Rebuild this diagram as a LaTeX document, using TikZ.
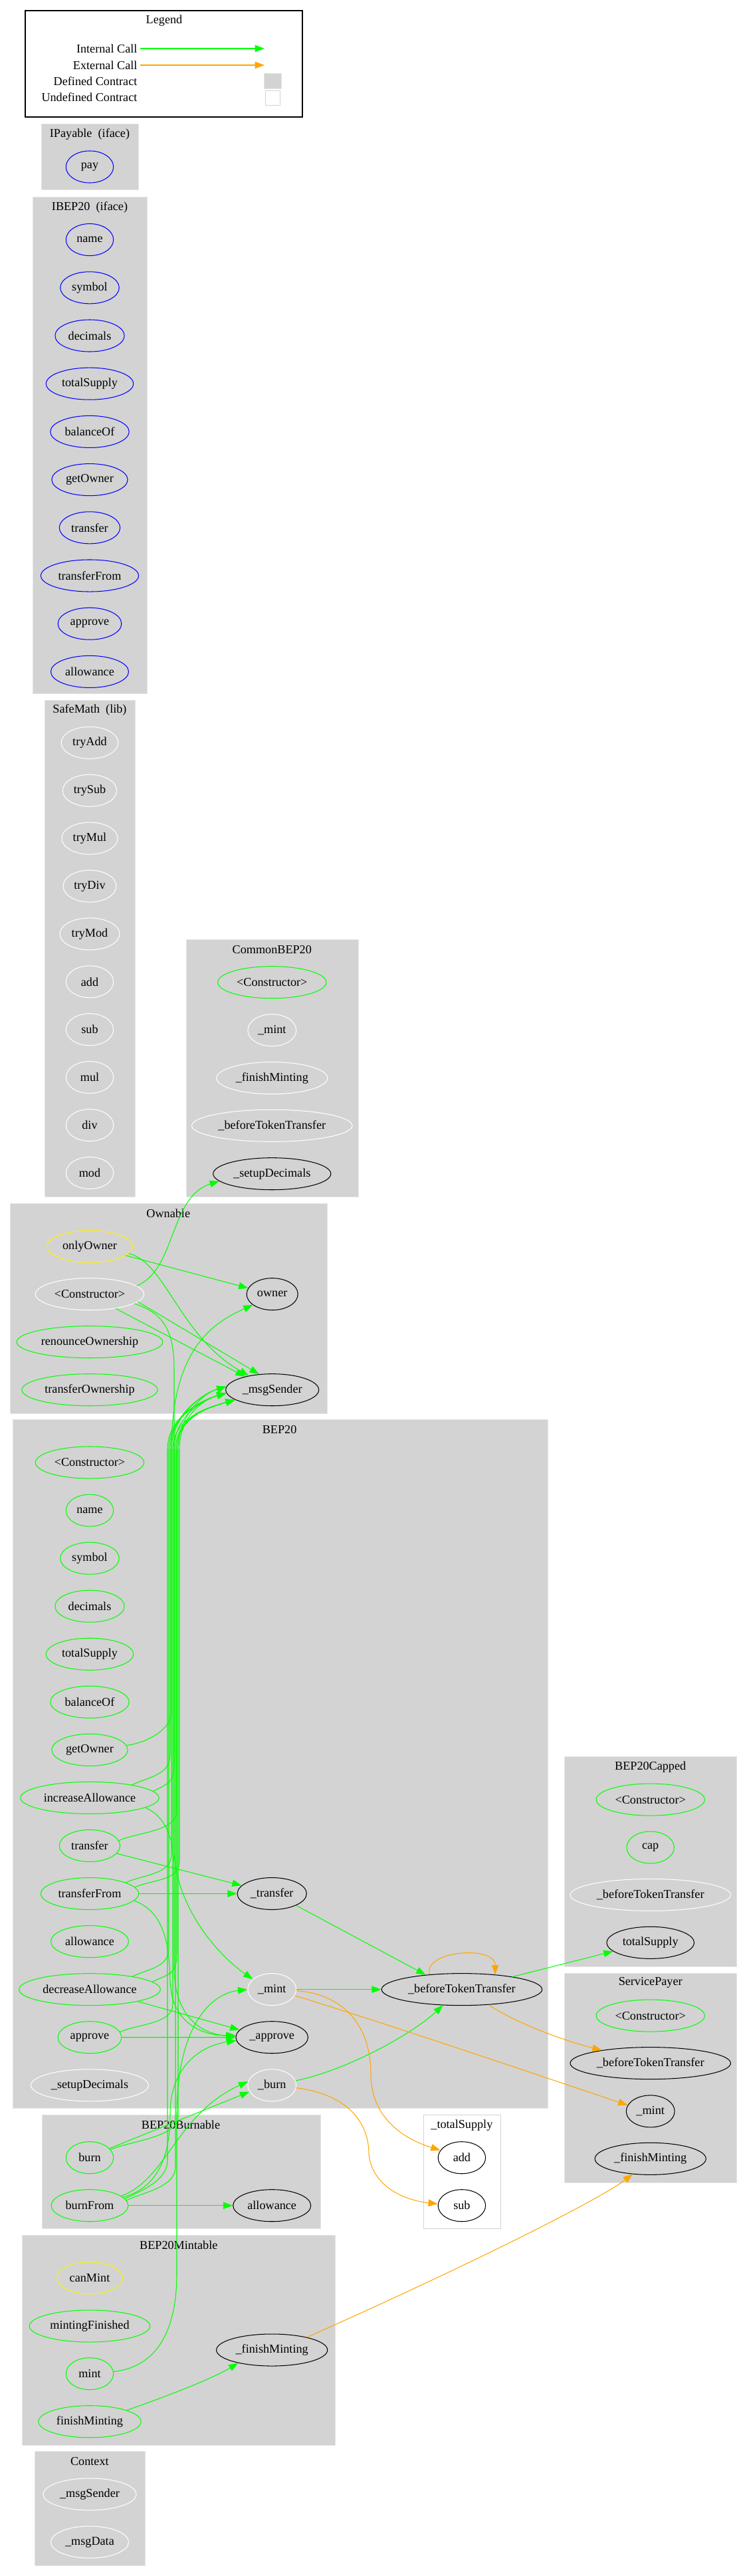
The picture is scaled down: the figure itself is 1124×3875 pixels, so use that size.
\documentclass[tikz,border=0pt]{standalone}
\usepackage{fontspec}
\setmainfont{Liberation Serif}
\usetikzlibrary{positioning,shapes.geometric,arrows.meta}

\definecolor{intcall}{HTML}{00FF00}
\definecolor{extcall}{HTML}{FFA500}
\definecolor{boxgray}{HTML}{D3D3D3}

\tikzset{
  fn/.style={ellipse, draw, line width=0.8pt, minimum width=55pt, minimum height=37pt, inner xsep=3.5pt, inner ysep=0pt},
  ifn/.style={fn, draw=blue},
  pubfn/.style={fn, draw=intcall},
  modfn/.style={fn, draw=yellow},
  privfn/.style={fn, draw=white},
  extfn/.style={fn, draw=black},
  cluster/.style={fill=boxgray, draw=boxgray!60},
  icall/.style={draw=intcall, line width=0.8pt, -{Triangle[length=11pt,width=8pt]}},
  xcall/.style={draw=extcall, line width=0.8pt, -{Triangle[length=11pt,width=8pt]}}
}

\begin{document}
\begin{tikzpicture}[x=0.77pt, y=-0.77pt, font=\fontsize{14}{16}\selectfont]
  \useasboundingbox (0,0) rectangle (1124,3875);

  % Legend
  \draw[line width=0.8pt] (38,16) rectangle (455,176);
  \node (lgTitle) at (247,31) {Legend};
  \node[anchor=east] (lgInt) at (211,73) {Internal Call};
  \node[anchor=east] (lgExt) at (211,98) {External Call};
  \node[anchor=east] (lgDef) at (211,122) {Defined Contract};
  \node[anchor=east] (lgUndef) at (211,146) {Undefined Contract};
  \coordinate (lgIntEnd) at (398,73);
  \coordinate (lgExtEnd) at (398,98);
  \draw[icall] (lgInt.east) -- (lgIntEnd);
  \draw[xcall] (lgExt.east) -- (lgExtEnd);
  \draw[fill=boxgray, draw=boxgray!60] (397,110) rectangle (423,133);
  \draw[draw=boxgray] (399,136) rectangle (421,158);

  % Contract boxes
  \path[cluster] (62,186.7) rectangle (208,285.5);
  \path[cluster] (49,296.7) rectangle (221,1043);
  \path[cluster] (67,1053.6) rectangle (203,1800.7);
  \path[cluster] (280,1413) rectangle (539.3,1800.7);
  \path[cluster] (15,1810.3) rectangle (492.7,2126);
  \path[cluster] (19,2135.7) rectangle (823.8,3171);
  \path[cluster] (63.4,3181) rectangle (481.8,3352.3);
  \draw[draw=boxgray] (636.9,3181) rectangle (752.8,3352.3);
  \path[cluster] (33.6,3362.3) rectangle (504.6,3678);
  \path[cluster] (52,3687.7) rectangle (218.4,3859.3);
  \path[cluster] (849.3,2642.4) rectangle (1108.3,2958);
  \path[cluster] (849.3,2968.3) rectangle (1108.3,3283);

  \node (tIPayable) at (135,202) {IPayable\ \ (iface)};
  \node (tIBEP20) at (135,311.7) {IBEP20\ \ (iface)};
  \node (tSafeMath) at (135,1067.9) {SafeMath\ \ (lib)};
  \node (tCommon) at (409.3,1428.3) {CommonBEP20};
  \node (tOwnable) at (253.3,1825.7) {Ownable};
  \node (tBEP20) at (420.6,2150.7) {BEP20};
  \node (tBurnable) at (272,3196.7) {BEP20Burnable};
  \node (tTotal) at (694.9,3196.7) {\_totalSupply};
  \node (tMintable) at (268.8,3377.7) {BEP20Mintable};
  \node (tContext) at (134.9,3703) {Context};
  \node (tCapped) at (978.7,2658) {BEP20Capped};
  \node (tPayer) at (978.7,2982.6) {ServicePayer};

  % IPayable, IBEP20
  \node[ifn] (ipPay) at (135,251) {pay};
  \foreach \n [count=\i from 0] in {name,symbol,decimals,totalSupply,balanceOf,getOwner,transfer,transferFrom,approve,allowance}
    \node[ifn] (ib\n) at (135,{360.6+72.2*\i}) {\n};

  % SafeMath
  \foreach \n [count=\i from 0] in {tryAdd,trySub,tryMul,tryDiv,tryMod,add,sub,mul,div,mod}
    \node[privfn] (sm\n) at (135,{1117.3+71.9*\i}) {\n};

  % CommonBEP20
  \node[pubfn] (cbCtor) at (409.3,1477.7) {<Constructor>};
  \node[privfn] (cbMint) at (409.3,1549.7) {\_mint};
  \node[privfn] (cbFinish) at (409.3,1621.7) {\_finishMinting};
  \node[privfn] (cbBefore) at (409.3,1693.3) {\_beforeTokenTransfer};
  \node[extfn] (cbSetup) at (409.3,1765.7) {\_setupDecimals};

  % Ownable
  \node[modfn] (owOnly) at (135,1875) {onlyOwner};
  \node[privfn] (owCtor) at (135,1946.7) {<Constructor>};
  \node[pubfn] (owRenounce) at (135,2018.7) {renounceOwnership};
  \node[pubfn] (owTransfer) at (135,2090.7) {transferOwnership};
  \node[extfn] (owOwner) at (409.7,1946.7) {owner};
  \node[extfn] (owSender) at (409.7,2090.7) {\_msgSender};

  % BEP20
  \foreach \n/\t [count=\i from 0] in {bCtor/<Constructor>, bName/name, bSymbol/symbol, bDecimals/decimals, bTotal/totalSupply, bBalance/balanceOf, bGetOwner/getOwner, bIncAllow/increaseAllowance, bTransfer/transfer, bTransferFrom/transferFrom, bAllowance/allowance, bDecAllow/decreaseAllowance, bApprove/approve}
    \node[pubfn] (\n) at (135,{2200+72.06*\i}) {\t};
  \node[privfn] (bSetup) at (135,3136.8) {\_setupDecimals};
  \node[extfn] (bTransferI) at (409.2,2848.5) {\_transfer};
  \node[privfn] (bMintI) at (409.2,2992.6) {\_mint};
  \node[extfn] (bApproveI) at (409.2,3064.7) {\_approve};
  \node[privfn] (bBurnI) at (409.2,3136.8) {\_burn};
  \node[extfn] (bBefore) at (694.9,2992.6) {\_beforeTokenTransfer};

  % BEP20Burnable, _totalSupply
  \node[pubfn] (brBurn) at (135,3245.7) {burn};
  \node[pubfn] (brBurnFrom) at (135,3317.7) {burnFrom};
  \node[extfn] (brAllow) at (409.2,3317.7) {allowance};
  \node[extfn] (tsAdd) at (694.9,3245.7) {add};
  \node[extfn] (tsSub) at (694.9,3317.7) {sub};

  % BEP20Mintable
  \node[modfn] (mtCan) at (135,3426.7) {canMint};
  \node[pubfn] (mtFinished) at (135,3499) {mintingFinished};
  \node[pubfn] (mtMint) at (135,3570.7) {mint};
  \node[pubfn] (mtFinish) at (135,3642.7) {finishMinting};
  \node[extfn] (mtFinishI) at (409.2,3535) {\_finishMinting};

  % Context
  \node[privfn] (cxSender) at (135,3752) {\_msgSender};
  \node[privfn] (cxData) at (135,3824) {\_msgData};

  % BEP20Capped, ServicePayer
  \node[pubfn] (cpCtor) at (978.7,2707.1) {<Constructor>};
  \node[pubfn] (cpCap) at (978.7,2779) {cap};
  \node[privfn] (cpBefore) at (978.7,2850.4) {\_beforeTokenTransfer};
  \node[extfn] (cpTotal) at (978.7,2922.3) {totalSupply};
  \node[pubfn] (spCtor) at (978.7,3032.1) {<Constructor>};
  \node[extfn] (spBefore) at (978.7,3103.6) {\_beforeTokenTransfer};
  \node[extfn] (spMint) at (978.7,3175.9) {\_mint};
  \node[extfn] (spFinish) at (978.7,3247.3) {\_finishMinting};

  % Ownable calls
  \draw[icall] (owOnly.-14) -- (owOwner.166);
  \draw[icall] (owOnly.-10) .. controls (250,1900) and (270,2010) .. (owSender.149);
  \draw[icall] (owCtor.10) .. controls (265,1910) and (255,1800) .. (cbSetup.-172);
  \draw[icall] (owCtor.-9) -- (owSender.130);
  \draw[icall] (owCtor.-29) -- (owSender.154);
  \draw[icall] (owCtor.-12) .. controls (245,1975) and (262,2000) .. (262,2060) -- (262,2780) .. controls (262,2860) and (320,2935) .. (bMintI.152);

  % calls up to _msgSender
  \foreach \src/\ang/\vx/\vy/\tgt in {bIncAllow/17/256/2640/176, bIncAllow/6/262/2650/184, bTransfer/10/266/2725/195, bTransferFrom/17/258/2790/176, bTransferFrom/8/270/2800/184, bDecAllow/17/254/2930/184, bDecAllow/7/266/2940/195, bApprove/10/260/3015/195, brBurn/21/268/3185/176, brBurnFrom/11/252/3250/184, brBurnFrom/8/264/3260/195}
    \draw[icall] (\src.\ang) .. controls +(25,-12) and +(0,30) .. (\vx,\vy) -- (\vx,2180) .. controls +(0,-50) and +(-35,10) .. (owSender.\tgt);
  \draw[icall] (bGetOwner.7) .. controls +(35,-5) and +(0,25) .. (258,2575) -- (258,2180) .. controls (258,2030) and (320,1990) .. (owOwner.-151);

  % BEP20 calls
  \draw[icall] (bIncAllow.-10) .. controls (245,2730) and (262,2760) .. (262,2810) -- (262,2960) .. controls (262,3030) and (300,3060) .. (bApproveI.178);
  \draw[icall] (bTransferFrom.-9) .. controls (245,2875) and (255,2920) .. (256,2980) .. controls (258,3040) and (300,3062) .. (bApproveI.177);
  \draw[icall] (bTransfer.-16) -- (bTransferI.165);
  \draw[icall] (bTransferFrom.0) -- (bTransferI.180);
  \draw[icall] (bDecAllow.-14) -- (bApproveI.167);
  \draw[icall] (bApprove.0) -- (bApproveI.180);
  \draw[icall] (bTransferI.-26) -- (bBefore.158);
  \draw[icall] (bMintI.0) -- (bBefore.180);
  \draw[icall] (bBurnI.11) .. controls (520,3115) and (620,3060) .. (bBefore.-140);
  \draw[xcall] (bBefore.155) .. controls (635,2935) and (745,2925) .. (bBefore.24);
  \draw[icall] (bBefore.14) -- (cpTotal.-167);
  \draw[xcall] (bBefore.-30) .. controls (780,3045) and (850,3070) .. (spBefore.165);
  \draw[xcall] (bMintI.-15) .. controls (600,3050) and (850,3135) .. (spMint.165);
  \draw[xcall] (bMintI.-3) .. controls (520,3000) and (558,3050) .. (558,3120) .. controls (558,3180) and (600,3215) .. (tsAdd.161);
  \draw[xcall] (bBurnI.-6) .. controls (520,3150) and (555,3190) .. (555,3240) .. controls (560,3290) and (610,3310) .. (tsSub.176);

  % Burnable and Mintable calls
  \draw[icall] (brBurn.25) -- (bBurnI.-164);
  \draw[icall] (brBurnFrom.17) .. controls (250,3280) and (265,3180) .. (bBurnI.171);
  \draw[icall] (brBurnFrom.14) .. controls (240,3290) and (256,3240) .. (256,3180) .. controls (256,3110) and (300,3078) .. (bApproveI.-175);
  \draw[icall] (brBurnFrom.0) -- (brAllow.180);
  \draw[icall] (mtMint.5) .. controls (240,3560) and (266,3500) .. (266,3420) -- (266,3180) .. controls (266,3060) and (310,3000) .. (bMintI.180);
  \draw[icall] (mtFinish.17) .. controls (250,3605) and (320,3578) .. (mtFinishI.-159);
  \draw[xcall] (mtFinishI.20) .. controls (700,3410) and (900,3310) .. (spFinish.-139);
\end{tikzpicture}
\end{document}
